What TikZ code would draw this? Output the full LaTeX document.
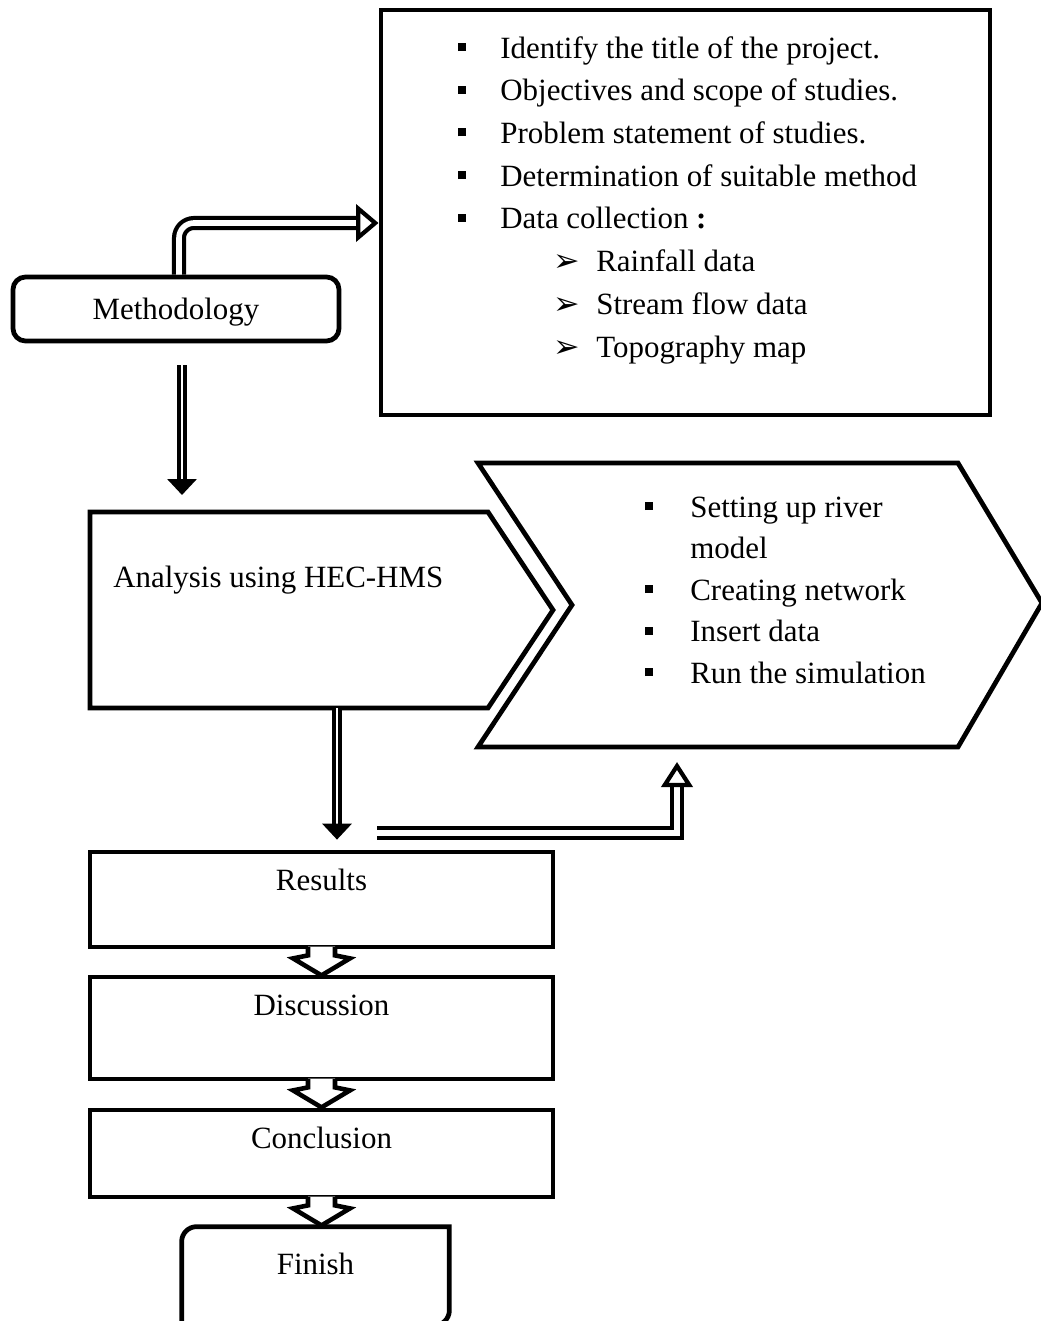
\documentclass[tikz,border=0pt]{standalone}
\usepackage{fontspec}
\setmainfont{Liberation Serif}
\newfontfamily\dejavu{DejaVu Sans}
\usetikzlibrary{arrows.meta}

\newcommand{\sqb}[1][0.84cm]{\makebox[#1][l]{\rule[0.14cm]{0.16cm}{0.16cm}}}
\newcommand{\subb}{\hspace*{1.9cm}\makebox[0.86cm][l]{{\dejavu\fontsize{18}{18}\selectfont ➢}}}

\tikzset{
  stepbox/.style={draw, line width=2.7pt, minimum width=9.26cm, inner sep=0pt},
  boxlabel/.style={label={[anchor=base, yshift=-0.82cm]north:#1}},
  solidarrow/.style={double, double distance=1.7pt, line width=2pt, -{Triangle[length=0.32cm, width=0.58cm]}},
  hollowarrow/.style={double, double distance=3.2pt, line width=2.4pt, -{Triangle[open, length=0.45cm, width=0.74cm, line width=2.4pt]}},
  blockarrow/.pic={
    \fill[white] (-0.27,0.055) -- (-0.27,-0.12) -- (-0.57,-0.18) -- (0,-0.52) -- (0.57,-0.18) -- (0.27,-0.12) -- (0.27,0.055) -- cycle;
    \draw[line width=2.6pt, line join=miter] (-0.27,0.046) -- (-0.27,-0.12) -- (-0.57,-0.18) -- (0,-0.52) -- (0.57,-0.18) -- (0.27,-0.12) -- (0.27,0.046);
  }
}

\begin{document}
\begin{tikzpicture}[font=\fontsize{17.6}{24.3}\selectfont]
\useasboundingbox (0,0) rectangle (20.82,-26.42);

% top part
\node[draw, line width=2.8pt, minimum width=12.18cm, minimum height=8.1cm] (info) at (13.71,-4.25) {};
% base of a node with several lines is its last line
\node[anchor=base west, align=left, inner sep=0pt] (infotext) at (9.16,-7.14) {%
\sqb Identify the title of the project.\\
\sqb Objectives and scope of studies.\\
\sqb Problem statement of studies.\\
\sqb Determination of suitable method\\
\sqb Data collection \textbf{:}\\
\subb Rainfall data\\
\subb Stream flow data\\
\subb Topography map};
\node[draw, line width=2.7pt, rounded corners=0.25cm, minimum width=6.52cm, minimum height=1.28cm, text height=0.5cm, text depth=0.06cm] (meth) at (3.52,-6.18) {Methodology};

% analysis and its steps
\draw[line width=2.7pt, line join=miter] (1.8,-10.24) coordinate (atop) -- (9.76,-10.24) -- (11.06,-12.2) -- (9.76,-14.16) -- (6.74,-14.16) coordinate (abot) -- (1.8,-14.16) -- cycle;
\node[anchor=base west, inner sep=0pt] (ana) at (2.26,-11.74) {Analysis using HEC-HMS};
\draw[line width=2.7pt, line join=miter] (9.56,-9.26) -- (19.16,-9.26) -- (20.84,-12.06) -- (19.16,-14.94) -- (13.54,-14.94) coordinate (chvb) -- (9.56,-14.94) -- (11.44,-12.1) -- cycle;
\node[anchor=base west, align=left, inner sep=0pt, font=\fontsize{17.6}{23.6}\selectfont] (chvtext) at (12.9,-13.66) {%
\sqb[0.9cm]Setting up river\\
\hspace*{0.9cm}model\\
\sqb[0.9cm]Creating network\\
\sqb[0.9cm]Insert data\\
\sqb[0.9cm]Run the simulation};

% lower steps
\node[stepbox, minimum height=1.9cm, boxlabel=Results] (res) at (6.43,-17.99) {};
\node[stepbox, minimum height=2.04cm, boxlabel=Discussion] (dis) at (6.43,-20.56) {};
\node[stepbox, minimum height=1.74cm, boxlabel=Conclusion] (con) at (6.43,-23.07) {};
\node[minimum width=5.34cm, minimum height=1.96cm, inner sep=0pt, label={[anchor=base, yshift=-0.96cm]north:Finish}] (fin) at (6.31,-25.52) {};
\draw[line width=2.7pt] ([xshift=0.3cm]fin.north west) -- (fin.north east) -- ([yshift=0.3cm]fin.south east) arc[start angle=0, end angle=-90, radius=0.3cm] -- (fin.south west) -- ([yshift=-0.3cm]fin.north west) arc[start angle=180, end angle=90, radius=0.3cm];

% arrows
\coordinate (rs) at (7.54,-16.66);
\draw[hollowarrow, rounded corners=0.3cm] ([xshift=0.06cm]meth.north) |- ([yshift=-0.21cm]info.west);
\draw[solidarrow, shorten <=0.44cm, shorten >=0.34cm] ([xshift=0.12cm]meth.south) -- ([xshift=0.12cm]meth.south |- atop);
\draw[solidarrow, shorten >=0.2cm] (abot) -- (abot |- res.north);
\draw[hollowarrow, -{Triangle[open, length=0.5cm, width=0.62cm, line width=2.4pt]}, shorten >=0.3cm] (rs) -| (chvb);
\path (res.south) pic {blockarrow};
\path (dis.south) pic {blockarrow};
\path (con.south) pic {blockarrow};
\end{tikzpicture}
\end{document}
